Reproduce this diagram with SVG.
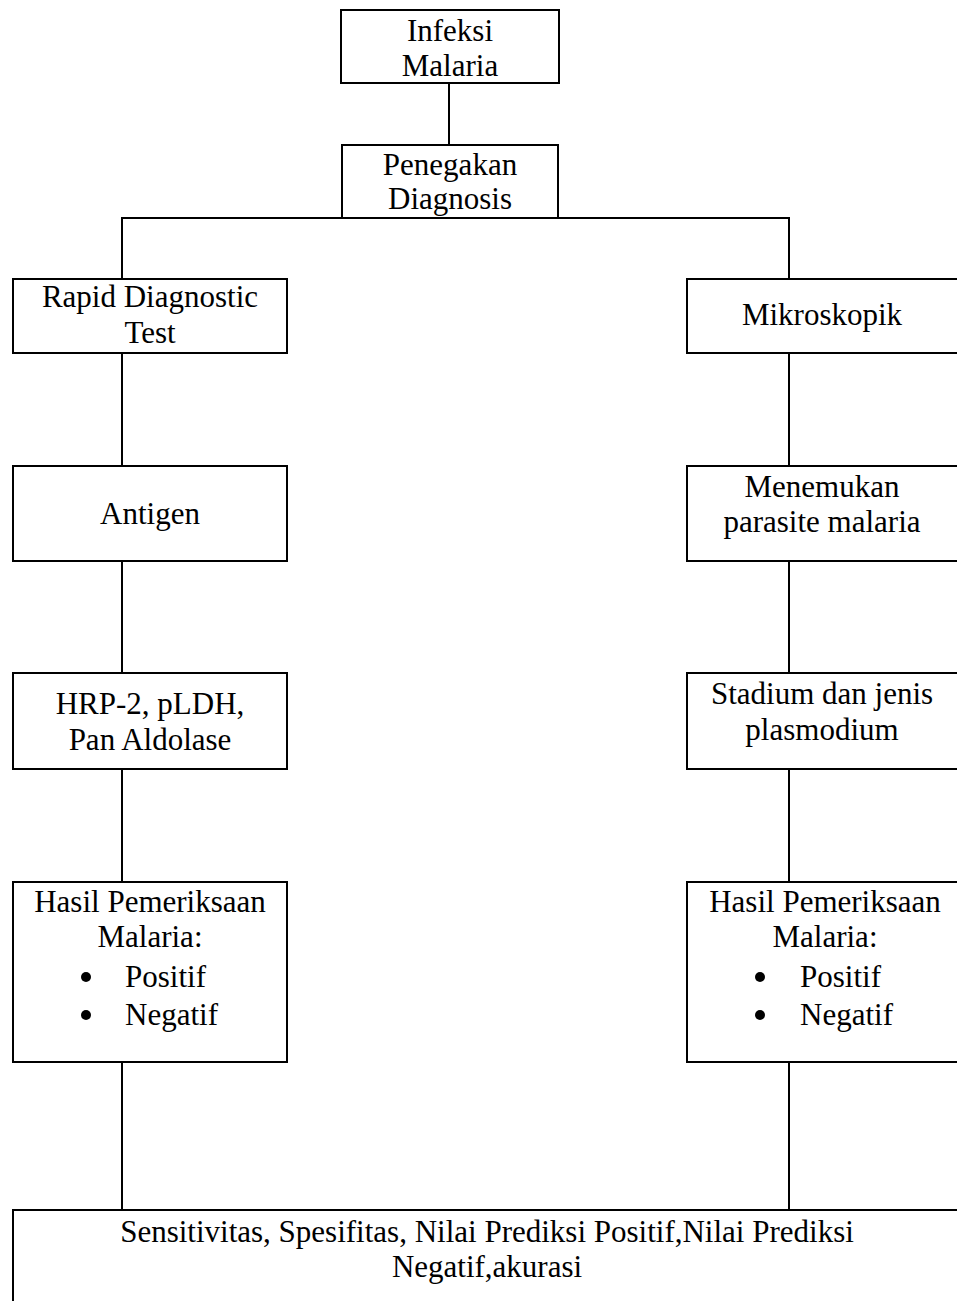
<svg xmlns="http://www.w3.org/2000/svg" width="957" height="1301" viewBox="0 0 957 1301">
<style>
.box{fill:#fff;stroke:#000;stroke-width:2}
.ln{stroke:#000;stroke-width:2;fill:none}
text{font-family:"Liberation Serif","Times New Roman",serif;font-size:31px;fill:#000;text-anchor:middle}
.l{text-anchor:start}
</style>
<rect width="957" height="1301" fill="#fff"/>
<g id="connectors">
<line class="ln" x1="449" y1="83" x2="449" y2="145"/>
<polyline class="ln" points="122,279 122,218 789,218 789,279"/>
<line class="ln" x1="122" y1="353" x2="122" y2="466"/>
<line class="ln" x1="789" y1="353" x2="789" y2="466"/>
<line class="ln" x1="122" y1="561" x2="122" y2="673"/>
<line class="ln" x1="789" y1="561" x2="789" y2="673"/>
<line class="ln" x1="122" y1="769" x2="122" y2="882"/>
<line class="ln" x1="789" y1="769" x2="789" y2="882"/>
<line class="ln" x1="122" y1="1062" x2="122" y2="1210"/>
<line class="ln" x1="789" y1="1062" x2="789" y2="1210"/>
</g>
<g id="infeksi">
<rect class="box" x="341" y="10" width="218" height="73"/>
<text x="450" y="41">Infeksi</text>
<text x="450" y="76">Malaria</text>
</g>
<g id="penegakan">
<rect class="box" x="342" y="145" width="216" height="73"/>
<text x="450" y="175">Penegakan</text>
<text x="450" y="209">Diagnosis</text>
</g>
<g id="rdt">
<rect class="box" x="13" y="279" width="274" height="74"/>
<text x="150" y="307">Rapid Diagnostic</text>
<text x="150" y="343">Test</text>
</g>
<g id="mikroskopik">
<rect class="box" x="687" y="279" width="280" height="74"/>
<text x="822" y="325">Mikroskopik</text>
</g>
<g id="antigen">
<rect class="box" x="13" y="466" width="274" height="95"/>
<text x="150" y="524">Antigen</text>
</g>
<g id="menemukan">
<rect class="box" x="687" y="466" width="280" height="95"/>
<text x="822" y="497">Menemukan</text>
<text x="822" y="532">parasite malaria</text>
</g>
<g id="hrp">
<rect class="box" x="13" y="673" width="274" height="96"/>
<text x="150" y="714">HRP-2, pLDH,</text>
<text x="150" y="750">Pan Aldolase</text>
</g>
<g id="stadium">
<rect class="box" x="687" y="673" width="280" height="96"/>
<text x="822" y="704">Stadium dan jenis</text>
<text x="822" y="740">plasmodium</text>
</g>
<g id="hasil-rdt">
<rect class="box" x="13" y="882" width="274" height="180"/>
<text x="150" y="912">Hasil Pemeriksaan</text>
<text x="150" y="947">Malaria:</text>
<circle cx="86" cy="977" r="5"/>
<text class="l" x="125" y="987">Positif</text>
<circle cx="86" cy="1015" r="5"/>
<text class="l" x="125" y="1025">Negatif</text>
</g>
<g id="hasil-mikro">
<rect class="box" x="687" y="882" width="280" height="180"/>
<text x="825" y="912">Hasil Pemeriksaan</text>
<text x="825" y="947">Malaria:</text>
<circle cx="760" cy="977" r="5"/>
<text class="l" x="800" y="987">Positif</text>
<circle cx="760" cy="1015" r="5"/>
<text class="l" x="800" y="1025">Negatif</text>
</g>
<g id="hasil-akhir">
<rect class="box" x="13" y="1210" width="960" height="120"/>
<text x="487" y="1242">Sensitivitas, Spesifitas, Nilai Prediksi Positif,Nilai Prediksi</text>
<text x="487" y="1277">Negatif,akurasi</text>
</g>
</svg>
